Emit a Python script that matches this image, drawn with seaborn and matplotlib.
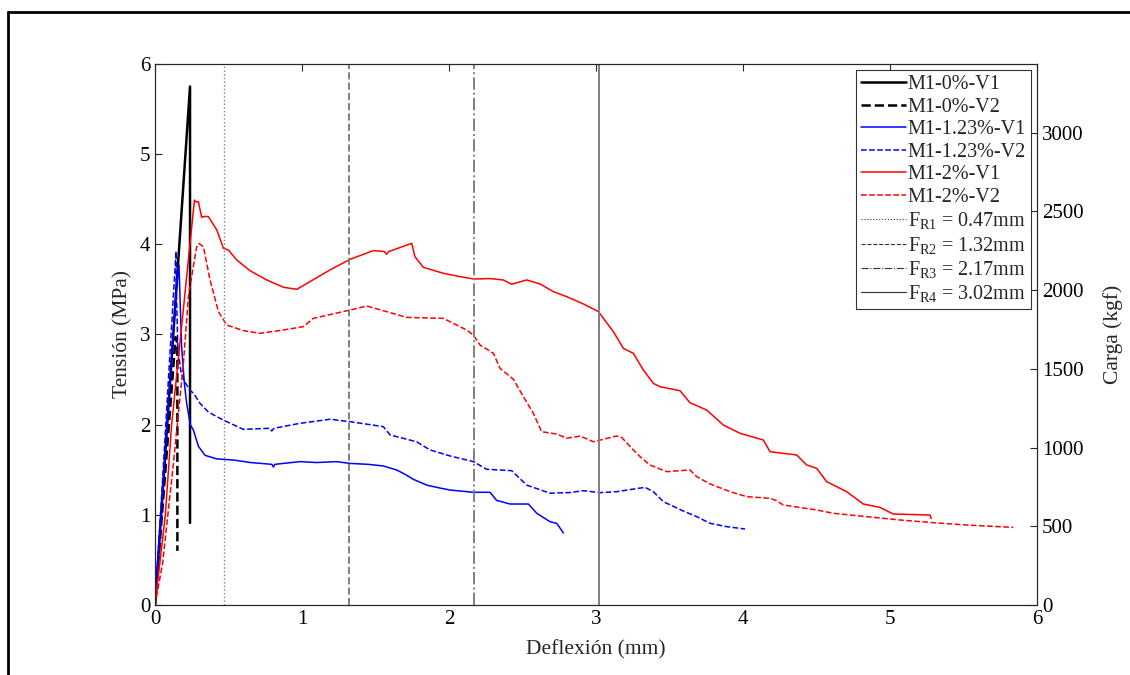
import numpy as np
import pandas as pd
import matplotlib
matplotlib.use("Agg")
import matplotlib.pyplot as plt
import seaborn as sns
from matplotlib.lines import Line2D

# ---------------- data ----------------
labels = ["M1-0%-V1", "M1-0%-V2", "M1-1.23%-V1", "M1-1.23%-V2", "M1-2%-V1", "M1-2%-V2"]

x_0_v1 = [0, 0.238, 0.238]
y_0_v1 = [0, 5.75, 0.91]

x_0_v2 = [0, 0.14, 0.152, 0.152]
y_0_v2 = [0, 2.97, 2.9, 0.6]

x_123_v1 = [0, 0.05, 0.10, 0.145, 0.163, 0.172, 0.181, 0.20, 0.215, 0.24, 0.261, 0.295, 0.34, 0.42,
            0.533, 0.65, 0.795, 0.805, 0.815, 0.986, 1.1, 1.236, 1.327, 1.45, 1.553, 1.644, 1.70,
            1.757, 1.848, 1.93, 2.007, 2.166, 2.279, 2.324, 2.415, 2.54, 2.597, 2.687, 2.733, 2.778]
y_123_v1 = [0, 1.2, 2.45, 3.5, 3.77, 3.3, 2.86, 2.45, 2.24, 2.0, 1.94, 1.76, 1.66, 1.62,
            1.608, 1.58, 1.56, 1.53, 1.56, 1.59, 1.58, 1.59, 1.57, 1.56, 1.542, 1.497, 1.45,
            1.394, 1.33, 1.30, 1.275, 1.25, 1.25, 1.16, 1.12, 1.12, 1.017, 0.924, 0.905, 0.8]

x_123_v2 = [0, 0.05, 0.10, 0.143, 0.145, 0.155, 0.175, 0.193, 0.238, 0.261, 0.306, 0.363, 0.465,
            0.601, 0.78, 0.794, 0.81, 0.986, 1.19, 1.327, 1.553, 1.599, 1.78, 1.87, 2.007, 2.166,
            2.256, 2.426, 2.528, 2.687, 2.823, 2.914, 3.027, 3.14, 3.333, 3.39, 3.458, 3.594,
            3.685, 3.776, 3.889, 4.014]
y_123_v2 = [0, 1.35, 2.75, 3.92, 3.5, 2.85, 2.6, 2.5, 2.38, 2.35, 2.237, 2.14, 2.05,
            1.948, 1.96, 1.93, 1.96, 2.015, 2.06, 2.033, 1.978, 1.886, 1.81, 1.72, 1.653, 1.59,
            1.505, 1.49, 1.33, 1.24, 1.247, 1.268, 1.246, 1.257, 1.305, 1.257, 1.146, 1.042,
            0.98, 0.906, 0.869, 0.843]

x_2_v1 = [0, 0.07, 0.113, 0.268, 0.28, 0.295, 0.317, 0.34, 0.363, 0.42, 0.465, 0.499, 0.556, 0.646,
          0.76, 0.873, 0.964, 1.054, 1.19, 1.327, 1.485, 1.56, 1.576, 1.59, 1.746, 1.768, 1.825,
          1.961, 2.052, 2.166, 2.279, 2.369, 2.426, 2.528, 2.619, 2.709, 2.8, 2.914, 3.016, 3.118,
          3.186, 3.254, 3.322, 3.39, 3.435, 3.571, 3.639, 3.753, 3.866, 3.98, 4.138, 4.184, 4.365,
          4.433, 4.501, 4.569, 4.705, 4.818, 4.931, 5.022, 5.272, 5.28]
y_2_v1 = [0, 1.0, 2.0, 4.49, 4.47, 4.473, 4.3, 4.31, 4.307, 4.16, 3.956, 3.937, 3.826, 3.708,
          3.605, 3.524, 3.501, 3.586, 3.716, 3.834, 3.93, 3.92, 3.89, 3.92, 4.011, 3.863, 3.745,
          3.679, 3.649, 3.616, 3.62, 3.605, 3.557, 3.605, 3.561, 3.476, 3.42, 3.339, 3.254, 3.032,
          2.846, 2.791, 2.606, 2.458, 2.421, 2.377, 2.244, 2.162, 1.996, 1.904, 1.83, 1.7, 1.664,
          1.553, 1.516, 1.368, 1.257, 1.12, 1.083, 1.009, 0.998, 0.96]

x_2_v2 = [0, 0.052, 0.125, 0.193, 0.227, 0.26, 0.283, 0.299, 0.329, 0.374, 0.431, 0.488, 0.601,
          0.714, 0.873, 1.009, 1.077, 1.327, 1.44, 1.553, 1.712, 1.961, 2.052, 2.12, 2.166, 2.211,
          2.302, 2.347, 2.438, 2.506, 2.574, 2.63, 2.732, 2.8, 2.868, 2.891, 2.982, 3.14, 3.174,
          3.254, 3.299, 3.367, 3.481, 3.639, 3.685, 3.776, 3.912, 4.025, 4.184, 4.229, 4.274,
          4.501, 4.614, 5.067, 5.294, 5.521, 5.839]
y_2_v2 = [0, 0.47, 1.57, 2.68, 3.42, 3.75, 3.97, 4.01, 3.974, 3.605, 3.254, 3.105, 3.043,
          3.013, 3.05, 3.087, 3.179, 3.271, 3.316, 3.264, 3.19, 3.179, 3.105, 3.05, 2.994, 2.883,
          2.791, 2.625, 2.503, 2.31, 2.125, 1.922, 1.896, 1.85, 1.866, 1.874, 1.811, 1.874, 1.859,
          1.72, 1.646, 1.553, 1.479, 1.498, 1.424, 1.342, 1.257, 1.202, 1.183, 1.157, 1.109,
          1.054, 1.017, 0.943, 0.913, 0.887, 0.861]

fr_values = [0.47, 1.32, 2.17, 3.02]
fr_labels = [r"F$_{\mathrm{R1}}$ = 0.47mm", r"F$_{\mathrm{R2}}$ = 1.32mm",
             r"F$_{\mathrm{R3}}$ = 2.17mm", r"F$_{\mathrm{R4}}$ = 3.02mm"]

x_ticks = [0, 1, 2, 3, 4, 5, 6]
y_ticks = [0, 1, 2, 3, 4, 5, 6]
kgf_ticks = [0, 500, 1000, 1500, 2000, 2500, 3000]
KGF_PER_MPA = 572.5

# ---------------- style ----------------
sns.set_style("white")
plt.rcParams["font.family"] = ["Liberation Serif", "DejaVu Serif"]
plt.rcParams["mathtext.fontset"] = "custom"
plt.rcParams["mathtext.rm"] = "Liberation Serif"
plt.rcParams["mathtext.it"] = "Liberation Serif:italic"
plt.rcParams["mathtext.bf"] = "Liberation Serif:bold"

fig = plt.figure(figsize=(11.3, 6.75), dpi=100)
ax = fig.add_axes([0.1372, 0.1037, 0.7805, 0.8015])

series = [
    (x_0_v1, y_0_v1, "black", "-", 1.8),
    (x_0_v2, y_0_v2, "black", "--", 1.8),
    (x_123_v1, y_123_v1, "#0000ff", "-", 1.1),
    (x_123_v2, y_123_v2, "#0000ff", "--", 1.1),
    (x_2_v1, y_2_v1, "#ff0000", "-", 1.1),
    (x_2_v2, y_2_v2, "#ff0000", "--", 1.1),
]

handles = []
for (xs, ys, c, ls, lw), lab in zip(series, labels):
    df = pd.DataFrame({"x": xs, "y": ys})
    sns.lineplot(data=df, x="x", y="y", ax=ax, color=c, linestyle=ls, lw=lw,
                 sort=False, estimator=None, legend=False)
    handles.append(Line2D([0], [0], color=c, linestyle=ls, lw=lw, label=lab))

fr_styles = [":", "--", "-.", "-"]
for v, ls, lab in zip(fr_values, fr_styles, fr_labels):
    ax.axvline(v, color="#808080", linestyle=ls, lw=1.4 if ls != ":" else 1.0)
    handles.append(Line2D([0], [0], color="#333333", linestyle=ls, lw=0.8, label=lab))

ax.set_xlim(0, 6)
ax.set_ylim(0, 6)
ax.set_xticks(x_ticks)
ax.set_yticks(y_ticks)
ax.tick_params(direction="in", length=5, top=True, right=False, labelsize=15,
               colors="#262626", labelcolor="black")
for s in ax.spines.values():
    s.set_color("#262626")
    s.set_linewidth(0.8)
ax.set_xlabel("Deflexión (mm)", fontsize=15.5, labelpad=8)
ax.set_ylabel("Tensión (MPa)", fontsize=15.5, labelpad=5)

ax2 = ax.twinx()
ax2.set_ylim(0, 6 * KGF_PER_MPA)
ax2.set_yticks(kgf_ticks)
ax2.tick_params(direction="in", length=5, labelsize=15, colors="#262626", labelcolor="black")
for s in ax2.spines.values():
    s.set_color("#262626")
    s.set_linewidth(0.8)
ax2.set_ylabel("Carga (kgf)", fontsize=15.5, labelpad=14)

leg = ax2.legend(handles=handles, loc="upper right", fontsize=14.5, frameon=True,
                 fancybox=False, edgecolor="#333333", framealpha=1, handlelength=2.2,
                 handletextpad=0.1, labelspacing=0.17, borderpad=0.25, borderaxespad=0.3)
leg.get_frame().set_linewidth(0.8)

# outer frame
fig.add_artist(Line2D([0.0071, 1.0], [0.982, 0.982], transform=fig.transFigure,
                      color="black", lw=2))
fig.add_artist(Line2D([0.0071, 0.0071], [0.0, 0.982], transform=fig.transFigure,
                      color="black", lw=2))

fig.savefig("out.png", dpi=100)
